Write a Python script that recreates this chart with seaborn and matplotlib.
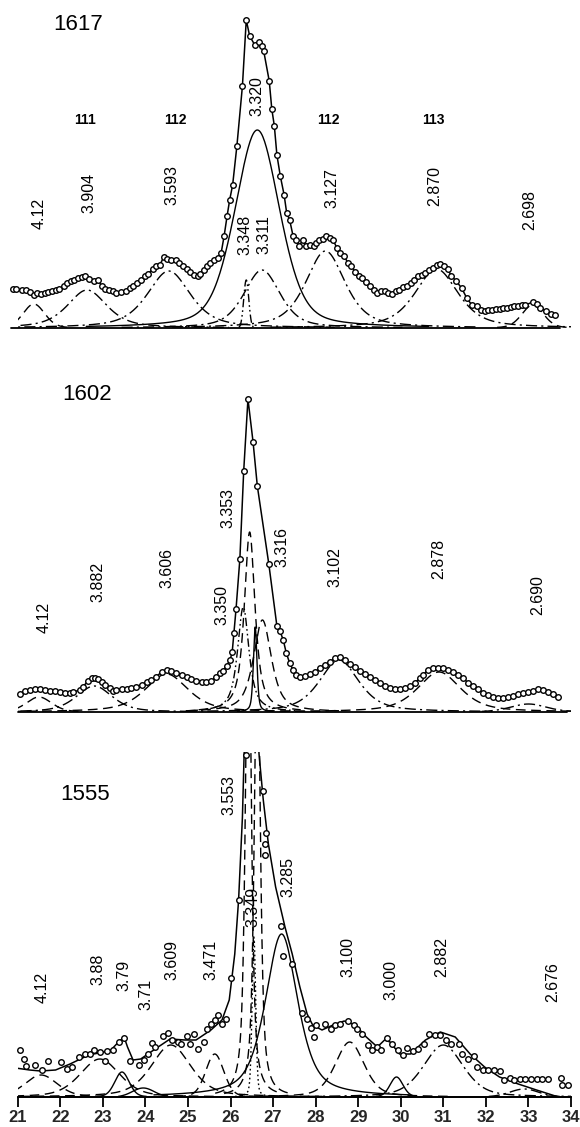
import numpy as np
import pandas as pd
import matplotlib
matplotlib.use("Agg")
import matplotlib.pyplot as plt
import seaborn as sns

# ---------------- data: panel 1617 ----------------
obs1_x = [20.89, 20.97, 21.09, 21.19, 21.30, 21.38, 21.45, 21.54, 21.63, 21.71, 21.80, 21.90, 21.97, 22.08,
          22.17, 22.25, 22.32, 22.41, 22.50, 22.58, 22.67, 22.80, 22.89, 22.97, 23.06, 23.15, 23.23, 23.32,
          23.43, 23.54, 23.63, 23.71, 23.80, 23.89, 23.99, 24.06, 24.17, 24.25, 24.34, 24.43, 24.51, 24.60,
          24.71, 24.80, 24.89, 24.97, 25.06, 25.15, 25.23, 25.28, 25.37, 25.45, 25.52, 25.61, 25.70, 25.78,
          25.85, 25.92, 25.98, 26.05, 26.15, 26.28, 26.37, 26.45, 26.57, 26.67, 26.74, 26.78, 26.91, 26.97,
          27.03, 27.09, 27.17, 27.26, 27.32, 27.39, 27.47, 27.54, 27.61, 27.70, 27.78, 27.87, 27.96, 28.02,
          28.08, 28.17, 28.25, 28.34, 28.41, 28.50, 28.58, 28.67, 28.76, 28.84, 28.93, 29.02, 29.10, 29.19,
          29.28, 29.37, 29.45, 29.54, 29.63, 29.71, 29.80, 29.89, 29.97, 30.06, 30.15, 30.23, 30.32, 30.41,
          30.50, 30.58, 30.67, 30.76, 30.84, 30.93, 31.02, 31.10, 31.19, 31.30, 31.43, 31.55, 31.67, 31.80,
          31.89, 31.98, 32.06, 32.15, 32.24, 32.33, 32.41, 32.50, 32.59, 32.67, 32.76, 32.85, 32.93, 33.10,
          33.20, 33.28, 33.41, 33.54, 33.63]
obs1_y = [39, 39, 38, 37.5, 35.5, 33, 35, 34, 35, 35.5, 36.5, 37.5, 39, 42,
          45, 46.5, 48, 50, 51, 52, 49, 46.5, 48, 42, 39, 37.5, 36.5, 35,
          35.5, 36.5, 39.5, 41.5, 45, 48, 51.5, 54, 59, 61.5, 63, 71, 69, 68,
          68, 65, 61.5, 59, 56, 53, 51.5, 54, 58, 61.5, 65, 68, 70, 75,
          92, 112, 128, 143, 182, 242, 308, 292, 283, 286, 282, 277, 247, 219,
          202, 173, 152, 133, 115, 108, 92, 88, 82, 88, 82, 83, 82, 85,
          88, 89, 92, 90, 88, 80, 75, 72, 65, 62, 56, 52, 50, 46,
          42, 38, 35, 37, 37, 35, 34, 37, 38, 41, 42, 45, 48, 52,
          53, 55, 58, 60, 63, 64, 62, 59, 52, 47, 40, 30, 23, 22,
          18, 17, 18, 18, 19, 19, 20, 20, 21, 22, 22, 23, 23, 26,
          24, 20, 17, 14, 13]
comp1_center = [21.38, 22.63, 24.55, 26.37, 26.74, 26.63, 28.23, 30.84, 33.10]
comp1_height = [24, 38, 57, 48, 58, 198, 77, 59, 23]
comp1_hwhm = [0.30, 0.55, 0.60, 0.07, 0.50, 0.62, 0.55, 0.60, 0.30]
comp1_eta = [0.2, 0.6, 0.6, 0.0, 0.5, 0.35, 0.6, 0.6, 0.2]
comp1_style = ["dash", "dashdot", "dashdot", "dashdotdot", "dashdot", "solid", "dashdot", "dashdot", "dash"]
lab1_text = ["4.12", "3.904", "3.593", "3.348", "3.311", "3.320", "3.127", "2.870", "2.698"]
lab1_x = [21.50, 22.67, 24.63, 26.35, 26.78, 26.61, 28.38, 30.80, 33.02]
lab1_y = [115, 135, 143, 93, 93, 232, 140, 142, 118]
hkl1_text = ["111", "112", "112", "113"]
hkl1_x = [22.58, 24.71, 28.30, 30.76]
hkl1_y = [208, 208, 208, 208]

# ---------------- data: panel 1602 ----------------
obs2_x = [21.05, 21.17, 21.29, 21.41, 21.52, 21.64, 21.76, 21.88, 21.99, 22.11, 22.23, 22.31, 22.46, 22.54,
          22.66, 22.74, 22.81, 22.89, 22.97, 23.05, 23.17, 23.24, 23.32, 23.44, 23.56, 23.67, 23.79, 23.91,
          24.03, 24.14, 24.26, 24.38, 24.50, 24.61, 24.73, 24.85, 24.97, 25.08, 25.20, 25.32, 25.43, 25.55,
          25.67, 25.75, 25.83, 25.91, 25.99, 26.04, 26.08, 26.13, 26.22, 26.31, 26.41, 26.53, 26.63, 26.90,
          27.09, 27.16, 27.24, 27.31, 27.39, 27.47, 27.55, 27.63, 27.74, 27.86, 27.98, 28.10, 28.21, 28.33,
          28.45, 28.57, 28.68, 28.80, 28.92, 29.04, 29.16, 29.27, 29.39, 29.51, 29.63, 29.74, 29.86, 29.98,
          30.10, 30.21, 30.33, 30.45, 30.52, 30.64, 30.76, 30.87, 30.99, 31.11, 31.23, 31.35, 31.47, 31.58,
          31.70, 31.82, 31.94, 32.06, 32.17, 32.29, 32.41, 32.53, 32.64, 32.76, 32.88, 33.00, 33.11, 33.23,
          33.35, 33.46, 33.58, 33.70]
obs2_y = [18, 21, 22, 23, 23, 22, 21.5, 21, 20, 19.5, 19, 20, 22, 25.5,
          31.5, 34, 34, 33, 30, 27.5, 24, 21.5, 22, 23, 23.5, 24, 25.5, 27.5,
          30, 32, 35.5, 40, 42, 41, 39, 37.5, 35.5, 33, 31.5, 30, 30, 31.5,
          35, 39, 41.5, 46.5, 52, 60, 79, 103, 153, 241, 313, 270, 226, 148,
          86, 81, 72, 59, 49, 42, 37, 35, 36, 38, 40, 44, 47, 50,
          54, 55, 52, 48, 45, 41, 38, 35, 32, 29, 26, 24, 23, 23,
          24, 26, 29, 34, 37, 42, 44, 44, 44, 42, 40, 37, 34, 29,
          26, 23, 19, 17, 15, 14, 14, 15, 16, 18, 19, 20, 21, 23,
          22, 20, 18, 15]
comp2_center = [21.50, 22.80, 24.50, 26.30, 26.45, 26.58, 26.75, 28.55, 30.90, 33.00]
comp2_height = [15, 26, 38, 105, 180, 85, 92, 52, 40, 8]
comp2_hwhm = [0.35, 0.50, 0.60, 0.16, 0.15, 0.05, 0.25, 0.55, 0.60, 0.50]
comp2_eta = [0.3, 0.5, 0.6, 0.8, 0.8, 0.5, 0.7, 0.6, 0.6, 0.3]
comp2_style = ["dash", "dashdot", "dash", "dashdotdot", "dash", "solid", "dash", "dashdot", "dash", "dashdot"]
lab2_text = ["4.12", "3.882", "3.606", "3.350", "3.353", "3.316", "3.102", "2.878", "2.690"]
lab2_x = [21.63, 22.89, 24.50, 25.80, 25.93, 27.21, 28.45, 30.89, 33.23]
lab2_y = [95, 130, 144, 107, 204, 165, 145, 153, 117]

# ---------------- data: panel 1555 ----------------
obs3_x = [21.06, 21.15, 21.19, 21.41, 21.56, 21.71, 22.02, 22.15, 22.28, 22.45, 22.58, 22.71, 22.80, 22.93,
          23.06, 23.10, 23.23, 23.37, 23.50, 23.63, 23.84, 23.97, 24.06, 24.15, 24.23, 24.41, 24.54, 24.63,
          24.76, 24.84, 24.97, 25.06, 25.15, 25.23, 25.37, 25.45, 25.54, 25.63, 25.71, 25.80, 25.89, 26.02,
          26.19, 26.37, 26.77, 26.80, 26.82, 26.83, 27.19, 27.23, 27.45, 27.67, 27.80, 27.89, 27.97, 28.02,
          28.23, 28.37, 28.45, 28.58, 28.76, 28.89, 28.97, 29.10, 29.23, 29.32, 29.45, 29.54, 29.67, 29.80,
          29.93, 30.06, 30.15, 30.28, 30.41, 30.54, 30.67, 30.80, 30.93, 31.06, 31.19, 31.37, 31.45, 31.58,
          31.71, 31.80, 31.93, 32.06, 32.19, 32.32, 32.43, 32.56, 32.67, 32.80, 32.93, 33.06, 33.19, 33.32,
          33.45, 33.76, 33.80, 33.93]
obs3_y = [47, 38, 31, 32, 27, 36, 35, 28, 30, 40, 43, 43, 47, 45,
          36, 46, 47, 55, 59, 36, 32, 37, 43, 54, 50, 61, 64, 57,
          55, 53, 61, 53, 63, 48, 55, 68, 73, 77, 82, 73, 78, 119,
          197, 342, 306, 253, 242, 264, 171, 141, 133, 84, 78, 69, 60, 72,
          73, 68, 72, 73, 76, 72, 68, 63, 52, 47, 50, 47, 59, 53,
          47, 42, 49, 46, 48, 53, 63, 62, 62, 57, 53, 53, 43, 38,
          41, 30, 27, 27, 27, 26, 17, 19, 17, 18, 18, 18, 18, 18,
          18, 19, 12, 12]
fit3_x = [20.95, 21.28, 21.54, 21.89, 22.23, 22.67, 23.02, 23.19, 23.37, 23.50, 23.58, 23.71, 23.89, 24.23,
          24.58, 24.93, 25.19, 25.54, 25.80, 25.97, 26.10, 26.19, 26.28, 26.32, 26.50, 26.67, 26.77, 26.89,
          27.06, 27.28, 27.45, 27.63, 27.80, 27.93, 28.15, 28.41, 28.67, 28.93, 29.19, 29.45, 29.62, 29.75,
          29.97, 30.23, 30.58, 30.93, 31.28, 31.63, 31.97, 32.32, 32.76, 33.19, 33.63]
fit3_y = [29, 27, 26, 27, 33, 42, 45, 47, 55, 60, 50, 37, 38, 48,
          58, 57, 57, 67, 77, 97, 143, 197, 280, 343, 480, 343, 297, 253,
          210, 170, 143, 110, 83, 72, 67, 72, 76, 72, 60, 50, 57, 55,
          43, 43, 57, 65, 60, 43, 30, 20, 13, 7, 1]
comp3_center = [21.55, 22.93, 23.45, 23.95, 24.60, 25.63, 26.42, 26.55, 26.63, 27.20, 28.80, 29.90, 31.00, 32.90]
comp3_height = [22, 38, 25, 9, 52, 43, 520, 160, 480, 163, 55, 20, 52, 8]
comp3_hwhm = [0.45, 0.55, 0.20, 0.30, 0.55, 0.25, 0.08, 0.05, 0.08, 0.45, 0.40, 0.18, 0.55, 0.40]
comp3_eta = [0.3, 0.4, 0.2, 0.0, 0.5, 0.2, 0.7, 0.3, 0.7, 0.6, 0.4, 0.2, 0.4, 0.2]
comp3_style = ["dash", "dash", "solid", "solid", "dash", "dash", "dash", "dot", "dash", "solid",
               "dash", "solid", "dashdot", "dashdot"]
lab3_text = ["4.12", "3.88", "3.79", "3.71", "3.609", "3.471", "3.553", "3.349", "3.285", "3.100",
             "3.000", "2.882", "2.676"]
lab3_x = [21.58, 22.89, 23.50, 24.02, 24.63, 25.54, 25.97, 26.52, 27.35, 28.76, 29.78, 30.96, 33.58]
lab3_y = [110, 128, 122, 103, 137, 137, 302, 190, 220, 140, 117, 140, 115]

sample_names = ["1617", "1602", "1555"]
sample_x = [22.41, 22.63, 22.58]
sample_y = [303, 317, 303]
tick_values = list(range(21, 35))

# ---------------- style ----------------
sns.set_theme(style="white")
plt.rcParams["font.family"] = ["Liberation Sans", "DejaVu Sans"]
STY = {
    "solid": "-",
    "dash": (0, (7, 4)),
    "dashdot": (0, (8, 3, 1.5, 3)),
    "dashdotdot": (0, (6, 2.2, 1.2, 2.2, 1.2, 2.2)),
    "dot": (0, (1.2, 2.0)),
}


def pv(x, c, h, w, eta):
    u = (x - c) / w
    return h * (eta / (1 + u ** 2) + (1 - eta) * np.exp(-np.log(2) * u ** 2))


fig = plt.figure(figsize=(5.8, 11.27), dpi=100)
L, W = 0.0305, 0.954
ax1 = fig.add_axes([L, 1 - 328 / 1127, W, 320 / 1127])
ax2 = fig.add_axes([L, 1 - 712 / 1127, W, 335 / 1127])
ax3 = fig.add_axes([L, 1 - 1097 / 1127, W, 345 / 1127])
ylims = [320, 335, 345]

panels = [
    (ax1, obs1_x, obs1_y, obs1_x, obs1_y, comp1_center, comp1_height, comp1_hwhm, comp1_eta, comp1_style,
     lab1_text, lab1_x, lab1_y, (20.85, 33.75)),
    (ax2, obs2_x, obs2_y, obs2_x, obs2_y, comp2_center, comp2_height, comp2_hwhm, comp2_eta, comp2_style,
     lab2_text, lab2_x, lab2_y, (21.0, 33.9)),
    (ax3, obs3_x, obs3_y, fit3_x, fit3_y, comp3_center, comp3_height, comp3_hwhm, comp3_eta, comp3_style,
     lab3_text, lab3_x, lab3_y, (21.0, 34.0)),
]

for i, (ax, ox, oy, fx, fy, cc, ch, cw, ce, cs, lt, lx, ly, bl) in enumerate(panels):
    ax.set_xlim(21, 34)
    ax.set_ylim(0, ylims[i])
    # component curves
    for c, h, w, e, s in zip(cc, ch, cw, ce, cs):
        xs = np.linspace(c - 6 * w - 0.3, c + 6 * w + 0.3, 400)
        ys = pv(xs, c, h, w, e)
        keep = ys > 0.6
        sns.lineplot(x=xs[keep], y=ys[keep], ax=ax, color="black", lw=1.0,
                     linestyle=STY[s], sort=False, estimator=None)
    # fit line
    sns.lineplot(x=np.array(fx), y=np.array(fy), ax=ax, color="black", lw=1.1,
                 sort=False, estimator=None)
    # observed circles
    sns.scatterplot(x=ox, y=oy, ax=ax, marker="o", s=16, facecolor="white",
                    edgecolor="black", linewidth=1.0, zorder=5, clip_on=False)
    # baseline
    ax.plot(bl, [0, 0], color="black", lw=1.3, clip_on=False, zorder=6)
    # labels
    for t, x, y in zip(lt, lx, ly):
        ax.text(x, y, t, rotation=90, ha="center", va="center", fontsize=11.5, color="black")
    ax.text(sample_x[i], sample_y[i], sample_names[i], ha="center", va="center", fontsize=16, color="black")
    for sp in ax.spines.values():
        sp.set_visible(False)
    ax.set_xlabel("")
    ax.set_ylabel("")
    ax.set_yticks([])
    ax.patch.set_alpha(0)

for t, x, y in zip(hkl1_text, hkl1_x, hkl1_y):
    ax1.text(x, y, t, ha="center", va="center", fontsize=10, fontweight="bold", color="black")

ax1.set_xticks([])
ax2.set_xticks([])
ax3.spines["bottom"].set_visible(True)
ax3.spines["bottom"].set_color("black")
ax3.spines["bottom"].set_linewidth(1.3)
ax3.set_xticks(tick_values)
ax3.set_xticklabels([str(v) for v in tick_values], fontsize=12, fontweight="bold")
ax3.tick_params(axis="x", direction="out", length=7, width=1.3, color="black", pad=2, bottom=True)

fig.savefig("out.png", dpi=100, facecolor="white")
